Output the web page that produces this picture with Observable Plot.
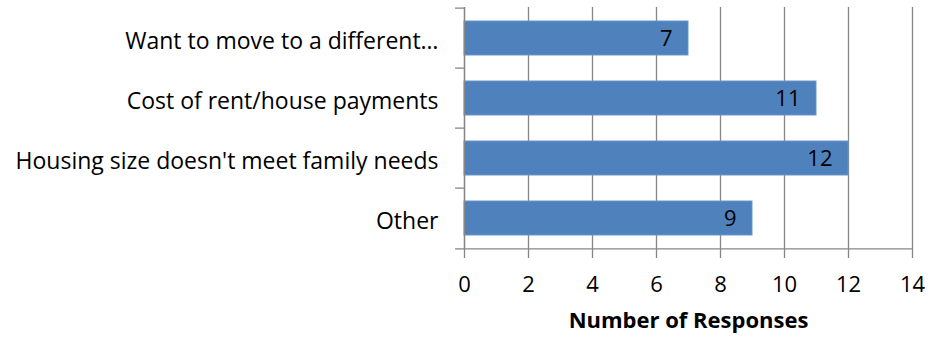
<!DOCTYPE html>
<html>
<head>
<meta charset="utf-8">
<script src="https://cdn.jsdelivr.net/npm/d3@7"></script>
<script src="https://cdn.jsdelivr.net/npm/@observablehq/plot@0.6"></script>
<style>
  html, body { margin: 0; padding: 0; background: #fff; }
  svg { display: block; }
</style>
</head>
<body>
<div id="chart"></div>
<script>
const categories = ["Want to move to a different…", "Cost of rent/house payments", "Housing size doesn't meet family needs", "Other"];
const responses = [7, 11, 12, 9];
const xTicks = [0, 2, 4, 6, 8, 10, 12, 14];
const xLabel = "Number of Responses";

const data = categories.map((c, i) => ({category: c, value: responses[i]}));

const W = 930, H = 338, mT = 7, mB = 88, mL = 464, mR = 18;
const step = (H - mT - mB) / categories.length;
const font = "'Open Sans', sans-serif";
const grey = "#878787";

const chart = Plot.plot({
  width: W,
  height: H,
  marginTop: mT,
  marginBottom: mB,
  marginLeft: mL,
  marginRight: mR,
  style: {fontFamily: font, background: "#fff"},
  x: {domain: [0, 14], ticks: xTicks, label: null},
  y: {domain: categories, paddingInner: 0.43, paddingOuter: 0.215, label: null},
  marks: [
    Plot.gridX(xTicks, {stroke: grey, strokeOpacity: 1, strokeWidth: 1.3}),
    Plot.barX(data, {x: "value", y: "category", fill: "#4F81BD", stroke: "#6A95CB", strokeWidth: 1}),
    Plot.text(data, {x: "value", y: "category", text: d => String(d.value), textAnchor: "end", dx: -16, fontSize: 22, fill: "#000"}),
    Plot.ruleX([0], {stroke: grey, strokeWidth: 1.3}),
    Plot.ruleY([categories[categories.length - 1]], {x1: 0, x2: 14, dy: step / 2, stroke: grey, strokeWidth: 1.3}),
    Plot.ruleY(categories, {x1: -0.28, x2: 0, dy: -step / 2, stroke: grey, strokeWidth: 1.3}),
    Plot.ruleY([categories[categories.length - 1]], {x1: -0.28, x2: 0, dy: step / 2, stroke: grey, strokeWidth: 1.3}),
    Plot.axisX({ticks: xTicks, tickSize: 8, tickPadding: 18, stroke: grey, fontSize: 22, fill: "#000", label: null, strokeWidth: 1.3}),
    Plot.axisY({tickSize: 0, tickPadding: 26, dy: 3, fontSize: 23, fill: "#000", label: null}),
    Plot.text([xLabel], {frameAnchor: "bottom", dy: 77, text: d => d, fontSize: 22, fontWeight: "bold", fill: "#000"})
  ]
});

document.getElementById("chart").appendChild(chart);
</script>
</body>
</html>
